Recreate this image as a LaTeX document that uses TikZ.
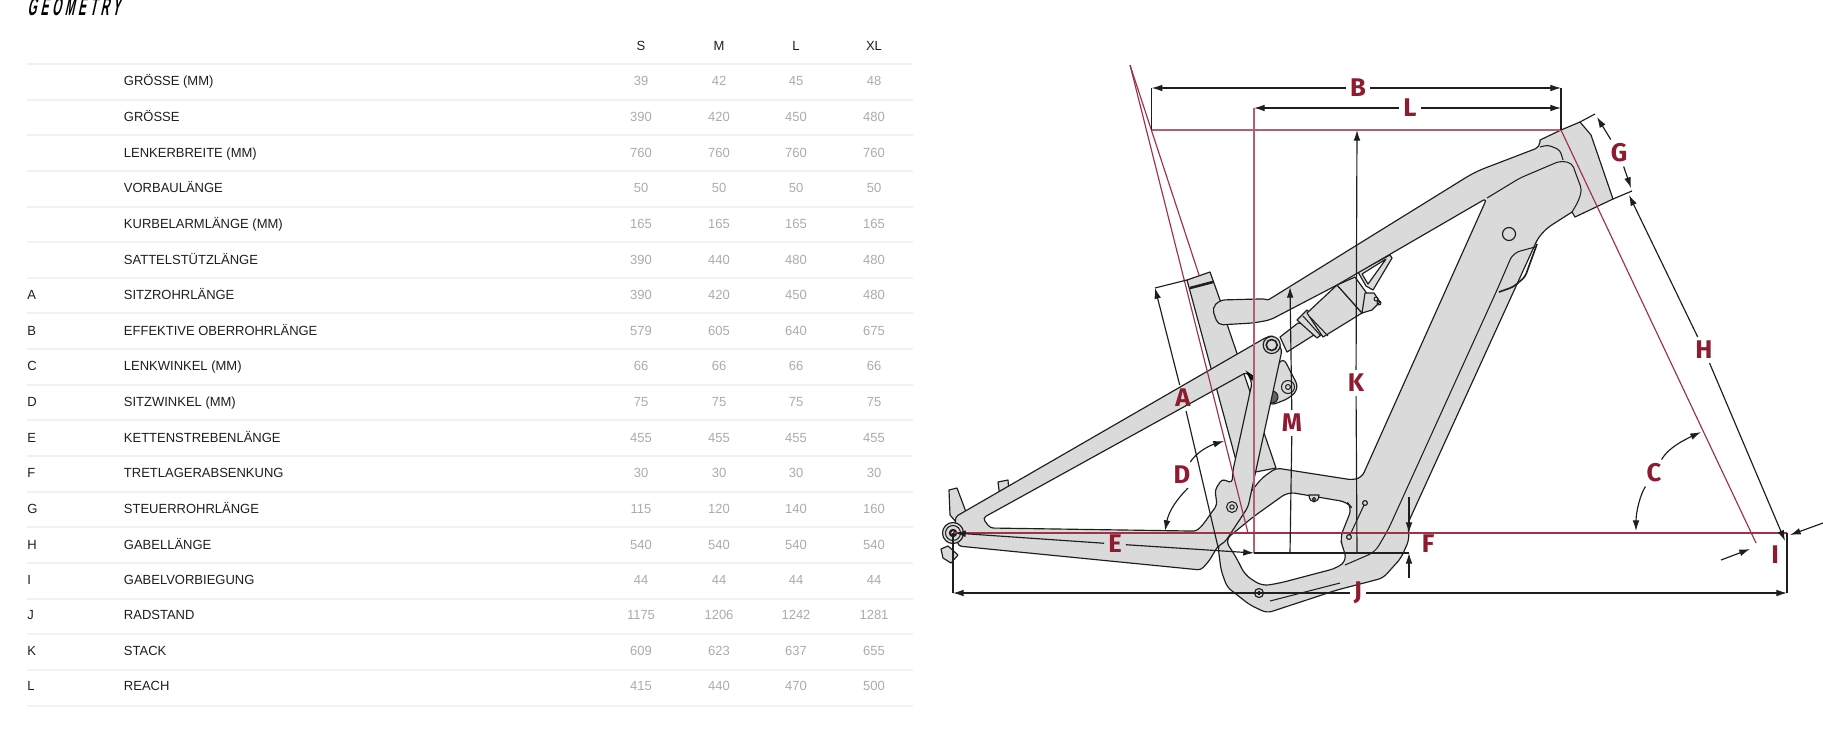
\documentclass[tikz,border=0pt]{standalone}
\usepackage{fontspec}
\usetikzlibrary{arrows.meta}
\setmainfont{Liberation Sans}
\newfontfamily\titlefont[FakeStretch=0.45,FakeSlant=0.22,LetterSpace=15]{Liberation Sans Bold}
\newfontfamily\dinfont[FakeStretch=0.98]{Liberation Sans}
\newfontfamily\markfont{Fira Sans}
\definecolor{framegrey}{HTML}{DADADA}
\definecolor{ink}{HTML}{1E1E1E}
\definecolor{redmark}{HTML}{8E1B30}
\definecolor{redline}{HTML}{9E3347}
\definecolor{redpale}{HTML}{B4606F}
\definecolor{rulegrey}{HTML}{F1F1F1}
\definecolor{valgrey}{HTML}{ABABAB}
\tikzset{
  rowtext/.style={font=\dinfont\fontsize{5.7}{7}\selectfont,text=ink,inner sep=0pt,anchor=base west,yshift=-2.1pt},
  valtext/.style={font=\dinfont\fontsize{5.7}{7}\selectfont,text=valgrey,inner sep=0pt,anchor=base,yshift=-2.1pt},
  headtext/.style={font=\dinfont\fontsize{5.7}{7}\selectfont,text=ink,inner sep=0pt,anchor=base,yshift=-2.1pt},
  tablerule/.style={draw=rulegrey,line width=.45pt},
  frameshape/.style={fill=framegrey,draw=ink,line width=.5pt,line join=round},
  detail/.style={draw=ink,line width=.45pt,line join=round},
  whitepart/.style={fill=white,draw=ink,line width=.5pt,line join=round},
  marklabel/.style={font=\markfont\bfseries\fontsize{11}{11}\selectfont,text=redmark,inner sep=1.6pt},
  dimline/.style={draw=ink,line width=.5pt},
  dimtip/.style={dimline,-{Latex[length=4.6pt,width=2.9pt]}},
  redaxis/.style={draw=redline,line width=.5pt},
  redsoft/.style={draw=redpale,line width=.75pt},
}
\begin{document}
\begin{tikzpicture}[x=0.43pt,y=-0.43pt]
\useasboundingbox (0,0) rectangle (1823,740);
% ---- table ----
\node[anchor=base west,inner sep=0pt,font=\titlefont\fontsize{11}{11}\selectfont,text=black] (title) at (27,15) {GEOMETRY};
\node[headtext] (hS) at (641,46) {S};
\node[headtext] (hM) at (719,46) {M};
\node[headtext] (hL) at (796,46) {L};
\node[headtext] (hXL) at (874,46) {XL};
\foreach \ry in {64,100,135,171,207,242,278,313,349,385,420,456,492,527,563,599,634,670,706}
  \draw[tablerule] (27,\ry) -- (913,\ry);
\foreach \rlet/\rnam/\va/\vb/\vc/\vd/\ry [count=\ri] in {
  {}/GRÖSSE (MM)/39/42/45/48/81,
  {}/GRÖSSE/390/420/450/480/117,
  {}/LENKERBREITE (MM)/760/760/760/760/153,
  {}/VORBAULÄNGE/50/50/50/50/188,
  {}/KURBELARMLÄNGE (MM)/165/165/165/165/224,
  {}/SATTELSTÜTZLÄNGE/390/440/480/480/260,
  A/SITZROHRLÄNGE/390/420/450/480/295,
  B/EFFEKTIVE OBERROHRLÄNGE/579/605/640/675/331,
  C/LENKWINKEL (MM)/66/66/66/66/366,
  D/SITZWINKEL (MM)/75/75/75/75/402,
  E/KETTENSTREBENLÄNGE/455/455/455/455/438,
  F/TRETLAGERABSENKUNG/30/30/30/30/473,
  G/STEUERROHRLÄNGE/115/120/140/160/509,
  H/GABELLÄNGE/540/540/540/540/545,
  I/GABELVORBIEGUNG/44/44/44/44/580,
  J/RADSTAND/1175/1206/1242/1281/615,
  K/STACK/609/623/637/655/651,
  L/REACH/415/440/470/500/686}{
  \node[rowtext] (let\ri) at (27,\ry) {\rlet};
  \node[rowtext] (nam\ri) at (123.5,\ry) {\rnam};
  \node[valtext] (a\ri) at (641,\ry) {\va};
  \node[valtext] (b\ri) at (719,\ry) {\vb};
  \node[valtext] (c\ri) at (796,\ry) {\vc};
  \node[valtext] (d\ri) at (874,\ry) {\vd};
}
% ---- rear dropout parts ----
\draw[frameshape] (949,490) -- (957,488) -- (966,512) -- (956,522) -- (950,515) -- cycle;
\draw[frameshape] (998,482) -- (1008,480) -- (1009,492) -- (1000,498) -- cycle;
\draw[frameshape] (941,549) -- (948,546) -- (958,555) -- (951,563) -- (943,558) -- cycle;
% ---- shock ----
\draw[frameshape] (1280,337) -- (1298,323) -- (1325,328) -- (1287,352) -- cycle;
\draw[frameshape] (1297,320) -- (1307,310) -- (1327,330) -- (1317,338) -- cycle;
\draw[frameshape] (1307,313) -- (1337,285) -- (1362,313) -- (1323,337) -- cycle;
\draw[frameshape] (1337,285) -- (1355,277) -- (1368,295) -- (1362,313) -- cycle;
\draw[frameshape] (1358,272) -- (1390,255) -- (1392,258) -- (1373,290) -- (1366,286) -- cycle;
\draw[whitepart] (1362,274) -- (1386,259) -- (1368,284) -- cycle;
\draw[frameshape] (1365,293) -- (1374,293) -- (1380,302) -- (1372,310) -- (1362,313) -- cycle;
\draw[detail] (1376,299) circle (2) (1379,303) circle (2);
\draw[detail] (1310,317) -- (1328,336) (1303,316) -- (1321,336);
% ---- seat tube ----
\draw[frameshape] (1187,280) -- (1210,272) -- (1220,300) -- (1228,327) -- (1276,468) -- (1240,475) -- cycle;
\draw[draw=ink,line width=1.1pt] (1190,288) -- (1213,282);
% ---- main frame ----
\draw[frameshape,rounded corners=2.2pt]
  (1212,308) -- (1220,300) -- (1258,299) .. controls (1264,299) and (1268,300) .. (1273,297)
  -- (1470,175) -- (1480,170) -- (1540,147) [sharp corners] -- (1540,140) -- (1561,130) -- (1580,122)
  -- (1591,135) -- (1613,199) -- (1575,217) -- (1572,212) [rounded corners=2.2pt] -- (1547,228) -- (1538,238)
  -- (1408,523) -- (1409,540) -- (1401,558) -- (1383,578)
  -- (1337,590) -- (1267,613) -- (1250,605) -- (1227,587) -- (1221,570) -- (1218,546)
  -- (1240,505) -- (1262,478) -- (1276,468) -- (1353,480) -- (1362,477) -- (1487,198)
  -- (1337,285) -- (1270,320) -- (1253,323) -- (1218,325) -- cycle;
\draw[whitepart,rounded corners=3pt]
  (1288,492) -- (1347,502) -- (1352,508) -- (1340,538) -- (1343,548) -- (1347,560) -- (1337,568)
  -- (1280,583) -- (1262,586) -- (1245,575) -- (1236,557) -- (1225,540) -- (1253,517) -- cycle;
% frame details
\draw[detail,rounded corners=1.5pt] (1540,147) -- (1548,145) -- (1560,150) -- (1563,160);
\draw[detail,rounded corners=2pt] (1487,198) -- (1520,178) -- (1560,161) -- (1572,163) -- (1577,177) -- (1582,190) -- (1578,202) -- (1572,212);
\draw[detail,rounded corners=3pt] (1535,247) -- (1513,253) -- (1497,290) -- (1388,530) -- (1375,552) -- (1345,565);
\draw[detail,rounded corners=1.5pt,line width=.7pt] (1537,244) -- (1525,277) -- (1513,287) -- (1499,292);
\draw[detail] (1270,601) -- (1340,583);
\draw[frameshape] (1309,495) .. controls (1309,504) and (1319,504) .. (1319,495) -- cycle;
\draw[detail] (1314,499) circle (1.6);
\draw[detail] (1365,503) -- (1349,537);
\draw[frameshape] (1365,503) circle (2.4);
\draw[frameshape] (1349,537) circle (2.4);
\draw[frameshape] (1509,234) circle (6.5);
% ---- shock mount lobe ----
\draw[frameshape,rounded corners=3pt] (1283,357) -- (1299,388) -- (1290,398) -- (1269,406) -- (1262,390) -- cycle;
\draw[detail] (1288,387) circle (6.5) (1288,387) circle (2.5);
\draw[detail,fill=ink!70] (1272,397) circle (6);
% ---- swingarm and rocker with the triangle open ----
\draw[frameshape,even odd rule,rounded corners=1.5pt]
  (955,517) -- (1265,338) -- (1273,335) -- (1282,350) -- (1248,507) -- (1225,542) -- (1218,546) -- (1209,561)
  -- (1201,570) -- (958,546) -- cycle
  (982.7,518) -- (1247,372) -- (1252,383) -- (1233,470) -- (1232,483) -- (1222,479) -- (1215,490) -- (1217,505)
  .. controls (1206,520) and (1200,531) .. (1190,531) -- (990,528) -- cycle;
\draw[frameshape] (1271.7,345) circle (8.5);
\draw[detail,fill=framegrey,line width=.7pt] (1271.7,345) circle (5.5);
\draw[detail] (1232,507) circle (5.5) (1232,507) circle (2.2);
\draw[frameshape] (1259,593) circle (4.5);
\draw[fill=ink] (1259,593) circle (1.6);
\draw[fill=ink] (1247,372) -- (1253,376) -- (1252,380) -- cycle;
% hub
\draw[frameshape] (953,533) circle (10.5);
\draw[detail] (953,533) circle (7.5);
\draw[draw=ink,fill=white,line width=1pt] (953,533) circle (3);
% ---- red axes ----
\coordinate (apex) at (1130,65);
\coordinate (topL) at (1151.7,130);
\coordinate (seatclamp) at (1199,275);
\coordinate (seataxis) at (1248,533);
\coordinate (headtop) at (1561,130);
\coordinate (steerfoot) at (1756,543);
\coordinate (redrear) at (953,533);
\coordinate (redfront) at (1787,533);
\coordinate (reachcorner) at (1254,108);
\coordinate (bbfoot) at (1254,553);
\draw[redaxis] (apex) -- (seatclamp);
\draw[redaxis] (apex) -- (seataxis);
\draw[redsoft] (topL) -- (headtop);
\draw[redsoft] (reachcorner) -- (bbfoot);
\draw[redaxis] (headtop) -- (steerfoot);
\draw[redaxis] (redrear) -- (redfront);
% ---- labels ----
\node[marklabel] (B) at (1358,88) {B};
\node[marklabel] (Lm) at (1410,108) {L};
\node[marklabel] (K) at (1356,383) {K};
\node[marklabel] (M) at (1292,423) {M};
\node[marklabel] (A) at (1183,398) {A};
\node[marklabel] (D) at (1182,475) {D};
\node[marklabel] (E) at (1115,544) {E};
\node[marklabel] (F) at (1428,544) {F};
\node[marklabel] (J) at (1358,593) {J};
\node[marklabel] (C) at (1654,473) {C};
\node[marklabel] (H) at (1704,350) {H};
\node[marklabel] (G) at (1619,153) {G};
\node[marklabel] (I) at (1775,555) {I};
% ---- dimension ends ----
\coordinate (Bl) at (1151.7,88);
\coordinate (Br) at (1561,88);
\coordinate (Ll) at (1254,108);
\coordinate (Lr) at (1561,108);
\coordinate (Ktop) at (1357,130);
\coordinate (Kbot) at (1357,553);
\coordinate (Mtop) at (1290,287);
\coordinate (Mbot) at (1290,553);
\coordinate (Atop) at (1155,288);
\coordinate (Abot) at (1218,547);
\coordinate (Aclamp) at (1187,280);
\coordinate (Drear) at (1165,531);
\coordinate (Dseat) at (1224,441);
\coordinate (Eaxle) at (955,533);
\coordinate (Ebb) at (1254,553);
\coordinate (Jl) at (953,593);
\coordinate (Jr) at (1787,593);
\coordinate (Jlhub) at (953,533);
\coordinate (Jrhub) at (1787,533);
\coordinate (Ftop) at (1409,497);
\coordinate (Fa) at (1409,533);
\coordinate (Fbot) at (1409,578);
\coordinate (Fb) at (1409,553);
\coordinate (Ca) at (1701,432);
\coordinate (Cb) at (1636,531);
\coordinate (Ha) at (1629,195);
\coordinate (Hb) at (1785,541);
\coordinate (Ga) at (1597,117);
\coordinate (Gb) at (1631,188);
\coordinate (Ia) at (1721,560);
\coordinate (Ib) at (1750,549);
\coordinate (Ic) at (1823,523);
\coordinate (Id) at (1790,535);
\coordinate (headcornerA) at (1613,199);
\coordinate (headcornerB) at (1580,122);
\coordinate (Gticka) at (1595,114);
\coordinate (Gtickb) at (1632,191);
% ---- dimensions ----
\draw[dimtip] (B) -- (Bl);
\draw[dimtip] (B) -- (Br);
\draw[dimline] (Bl) -- (topL);
\draw[dimline] (Br) -- (headtop);
\draw[dimtip] (Lm) -- (Ll);
\draw[dimtip] (Lm) -- (Lr);
\draw[dimtip] (K) -- (Ktop);
\draw[dimline] (K) -- (Kbot);
\draw[dimtip] (M) -- (Mtop);
\draw[dimline] (M) -- (Mbot);
\draw[dimtip] (A) -- (Atop);
\draw[dimline] (A) -- (Abot);
\draw[dimline] (Atop) -- (Aclamp);
\draw[dimtip] (D) .. controls (1188,488) and (1170,505) .. (Drear);
\draw[dimtip] (D) .. controls (1196,453) and (1208,446) .. (Dseat);
\draw[dimtip] (E) -- (Eaxle);
\draw[dimtip] (E) -- (Ebb);
\draw[dimtip] (J) -- (Jl);
\draw[dimtip] (J) -- (Jr);
\draw[dimline] (Jlhub) -- (Jl);
\draw[dimline] (Jrhub) -- (Jr);
\draw[dimline] (bbfoot) -- (Fb);
\draw[dimtip] (Ftop) -- (Fa);
\draw[dimtip] (Fbot) -- (Fb);
\draw[dimtip] (C) .. controls (1668,448) and (1684,440) .. (Ca);
\draw[dimtip] (C) .. controls (1640,495) and (1636,512) .. (Cb);
\draw[dimtip] (H) -- (Ha);
\draw[dimtip] (H) -- (Hb);
\draw[dimtip] (G) -- (Ga);
\draw[dimtip] (G) -- (Gb);
\draw[dimline] (headcornerA) -- (Gtickb);
\draw[dimline] (headcornerB) -- (Gticka);
\draw[dimtip] (Ia) -- (Ib);
\draw[dimtip] (Ic) -- (Id);
\end{tikzpicture}
\end{document}
